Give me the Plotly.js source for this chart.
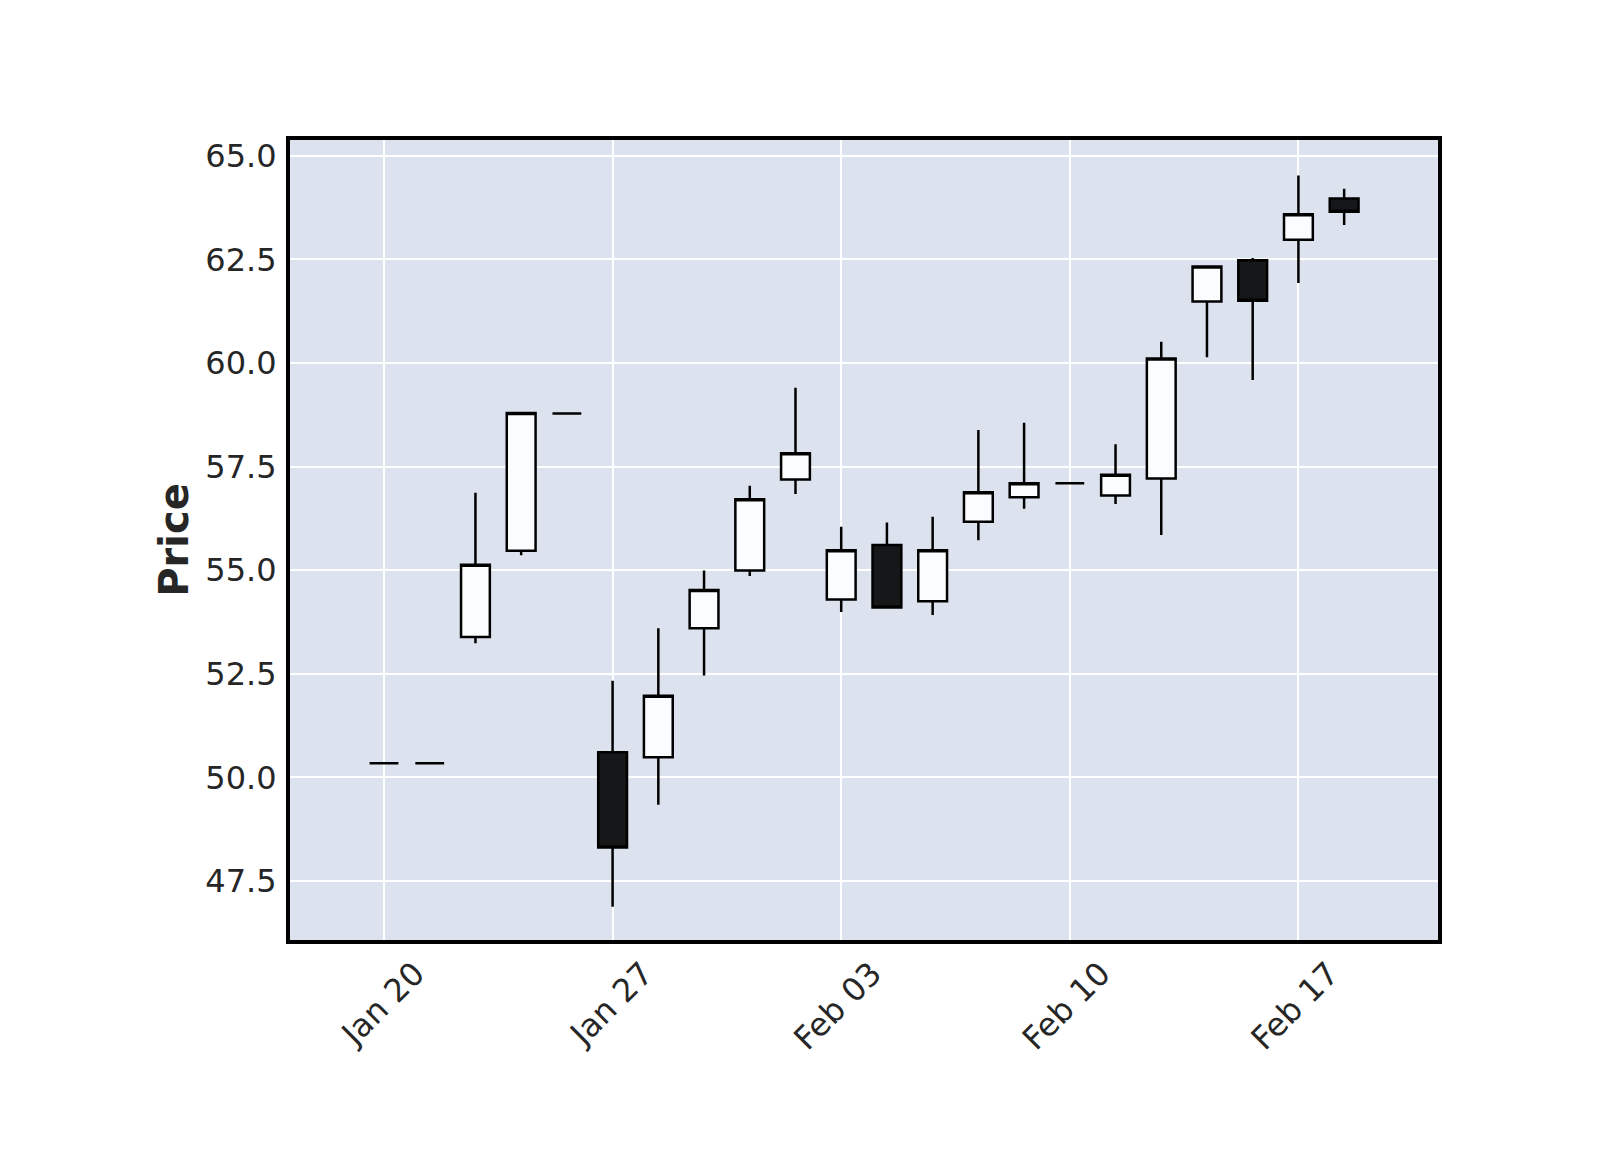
<!DOCTYPE html>
<html>
<head>
<meta charset="utf-8">
<script src="https://cdn.plot.ly/plotly-3.0.1.min.js"></script>
<style>html,body{margin:0;padding:0;background:#fff;}#chart{width:1600px;height:1150px;}</style>
</head>
<body>
<div id="chart"></div>
<script>
const dates = ['2025-01-20','2025-01-21','2025-01-22','2025-01-23','2025-01-24',
  '2025-01-27','2025-01-28','2025-01-29','2025-01-30','2025-01-31',
  '2025-02-03','2025-02-04','2025-02-05','2025-02-06','2025-02-07',
  '2025-02-10','2025-02-11','2025-02-12','2025-02-13','2025-02-14',
  '2025-02-17','2025-02-18'];
const openP  = [50.34,50.34,53.39,55.47,58.78,50.61,50.49,53.60,54.99,57.19,54.29,55.61,54.25,56.17,56.76,57.10,56.80,57.21,61.48,62.48,62.97,63.97];
const highP  = [50.34,50.34,56.87,58.79,58.78,52.33,53.60,54.99,57.04,59.40,56.05,56.15,56.29,58.38,58.56,57.10,58.04,60.51,62.33,62.53,64.52,64.20];
const lowP   = [50.34,50.34,53.24,55.36,58.78,46.88,49.34,52.46,54.86,56.84,53.99,54.10,53.92,55.72,56.48,57.10,56.60,55.85,60.14,59.59,61.93,63.33];
const closeP = [50.34,50.34,55.13,58.79,58.78,48.31,51.97,54.52,56.71,57.82,55.48,54.10,55.48,56.88,57.10,57.10,57.30,60.11,62.33,61.50,63.59,63.65];
const tickDates  = ['2025-01-20','2025-01-27','2025-02-03','2025-02-10','2025-02-17'];
const tickLabels = ['Jan 20','Jan 27','Feb 03','Feb 10','Feb 17'];
const yTicks = [47.5,50.0,52.5,55.0,57.5,60.0,62.5,65.0];
const yTickLabels = ['47.5','50.0','52.5','55.0','57.5','60.0','62.5','65.0'];

const font = 'DejaVu Sans, sans-serif';
const trace = {
  type: 'candlestick',
  x: dates, open: openP, high: highP, low: lowP, close: closeP,
  increasing: {line: {color: '#000000', width: 2.5}, fillcolor: '#FBFCFE'},
  decreasing: {line: {color: '#000000', width: 2.5}, fillcolor: '#161718'},
  whiskerwidth: 0,
  hoverinfo: 'skip'
};
const layout = {
  width: 1600, height: 1150,
  paper_bgcolor: '#ffffff', plot_bgcolor: '#DCE3EF',
  margin: {l: 290, r: 162, t: 140, b: 210, pad: 0},
  showlegend: false,
  boxgap: 0.37, boxgroupgap: 0,
  font: {family: font, color: '#262626'},
  xaxis: {
    type: 'category', range: [-2.056, 23.053],
    tickmode: 'array', tickvals: tickDates, ticktext: tickLabels,
    tickangle: -45, ticks: '', ticklabelshift: 31, ticklabelstandoff: -2,
    tickfont: {family: font, size: 32, color: '#262626'},
    showgrid: true, gridcolor: '#ffffff', gridwidth: 2,
    showline: true, mirror: true, linecolor: '#000000', linewidth: 4,
    zeroline: false, rangeslider: {visible: false}, fixedrange: true
  },
  yaxis: {
    range: [46.078, 65.379],
    tickmode: 'array', tickvals: yTicks, ticktext: yTickLabels,
    ticks: '', ticklabelstandoff: 3,
    tickfont: {family: font, size: 32, color: '#262626'},
    showgrid: true, gridcolor: '#ffffff', gridwidth: 2,
    showline: true, mirror: true, linecolor: '#000000', linewidth: 4,
    zeroline: false, fixedrange: true,
    title: {text: '<b>Price</b>', font: {family: font, size: 40, color: '#262626'}, standoff: 5}
  }
};
Plotly.newPlot('chart', [trace], layout, {displayModeBar: false, staticPlot: true});
</script>
</body>
</html>
